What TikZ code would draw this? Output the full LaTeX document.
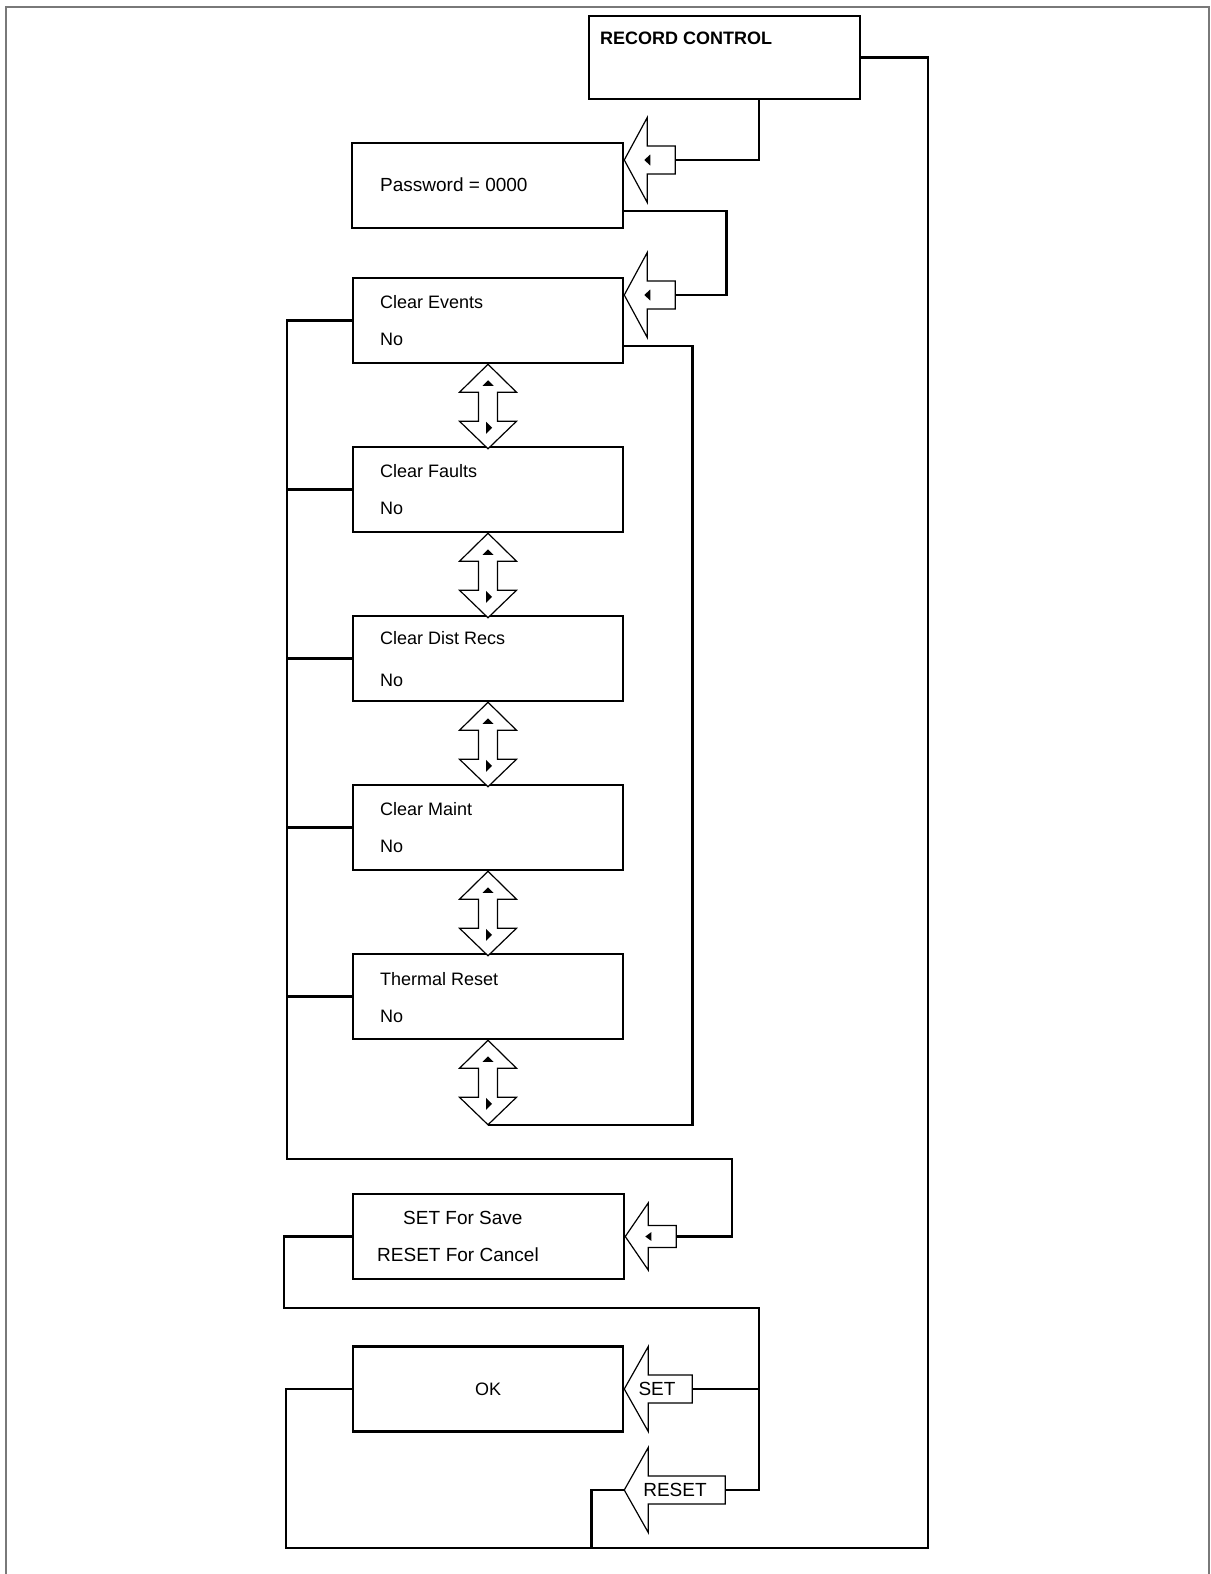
\documentclass[tikz,border=0pt]{standalone}
\usepackage{fontspec}
\setmainfont{Liberation Sans}

\tikzset{
  menubox/.style={draw, line width=2.5pt, minimum width=270pt, minimum height=85pt, inner sep=0pt, font=\fontsize{18}{21}\selectfont},
  menutext/.style={font=\fontsize{18}{21}\selectfont, anchor=west, inner sep=0pt},
  bigtext/.style={font=\fontsize{19}{22}\selectfont, inner sep=0pt},
  link/.style={line width=2.5pt},
  blockarrow/.style={draw, line width=1.2pt, fill=white},
  pics/larrow/.style={code={
    \draw[blockarrow] (0,0) -- (24,-42.5) -- (24,-14) -- (#1,-14) -- (#1,14) -- (24,14) -- (24,42.5) -- cycle;
  }},
  pics/larrowtick/.style={code={
    \draw[blockarrow] (0,0) -- (23,-42.5) -- (23,-14) -- (#1,-14) -- (#1,14) -- (23,14) -- (23,42.5) -- cycle;
    \fill (20,0) -- (26,-5.5) -- (26,5.5) -- cycle;
  }},
  pics/udarrow/.style={code={
    \draw[blockarrow] (0,0) -- (28.5,28) -- (9.5,28) -- (9.5,57) -- (28.5,57) -- (0,84.5)
      -- (-28.5,57) -- (-9.5,57) -- (-9.5,28) -- (-28.5,28) -- cycle;
    \fill (0,16) -- (5.5,21.5) -- (-5.5,21.5) -- cycle;
    \fill (-2,57.5) -- (4,63.5) -- (-2,69.5) -- cycle;
  }}
}

\begin{document}
\begin{tikzpicture}[x=1pt, y=-1pt]
  \useasboundingbox (0,0) rectangle (1210,1574);
  % cornice
  \draw[gray!95!black, line width=2pt] (6,1580) -- (6,7) -- (1209,7) -- (1209,1580);

  % riquadri del menu
  \node[menubox, minimum width=271pt, minimum height=83pt] (rc) at (724.5,57.5) {};
  \node[menubox, minimum width=271pt] (pw) at (487.5,185.5) {};
  \node[menubox] (ce) at (488,320.5) {};
  \node[menubox] (cf) at (488,489.5) {};
  \node[menubox] (cd) at (488,658.5) {};
  \node[menubox] (cm) at (488,827.5) {};
  \node[menubox] (tr) at (488,996.5) {};
  \node[menubox, minimum width=271pt] (ss) at (488.5,1236.5) {};
  \node[menubox] (ok) at (488,1389) {OK};

  % testi dei riquadri
  \node[menutext, font=\fontsize{18}{21}\selectfont\bfseries] (rct) at (600,38.5) {RECORD CONTROL};
  \node[menutext, bigtext] (pwt) at (380,185) {Password = 0000};
  \node[menutext] (cet) at (380,302) {Clear Events};
  \node[menutext] (cen) at (380,339) {No};
  \node[menutext] (cft) at (380,471) {Clear Faults};
  \node[menutext] (cfn) at (380,508) {No};
  \node[menutext] (cdt) at (380,638) {Clear Dist Recs};
  \node[menutext] (cdn) at (380,680) {No};
  \node[menutext] (cmt) at (380,809) {Clear Maint};
  \node[menutext] (cmn) at (380,846) {No};
  \node[menutext] (trt) at (380,979) {Thermal Reset};
  \node[menutext] (trn) at (380,1016) {No};
  \node[menutext, bigtext] (sst) at (403,1218) {SET For Save};
  \node[menutext, bigtext] (ssn) at (377,1255) {RESET For Cancel};

  % punte e code delle frecce
  \coordinate (pwtip) at ([yshift=25.5pt]pw.east);
  \coordinate (pwtail) at ([xshift=51pt]pwtip);
  \coordinate (cetip) at ([yshift=25.5pt]ce.east);
  \coordinate (cetail) at ([xshift=51pt]cetip);
  \coordinate (sstip) at (ss.east);
  \coordinate (sstail) at ([xshift=51pt]sstip);
  \coordinate (settip) at (ok.east);
  \coordinate (settail) at ([xshift=68pt]settip);
  \coordinate (resettip) at ([yshift=-101pt]ok.east);
  \coordinate (resettail) at ([xshift=101pt]resettip);
  \coordinate (endtip) at ([yshift=-84.5pt]tr.south);
  \coordinate (bus) at (287,1159);
  \coordinate (rjoin) at (759,1308);
  \coordinate (bl) at (286,1548);
  \coordinate (br) at (928,1548);

  % collegamenti
  \draw[link] ([xshift=34.5pt]rc.south) |- (pwtail);
  \draw[link] ([yshift=-25.5pt]pw.east) -- ++(102,0) |- (cetail);
  \draw[link] ([yshift=-25.5pt]ce.east) -- ++(68,0) |- (endtip);
  \draw[link] (ce.west) -| (bus) -- ++(445,0) |- (sstail);
  \foreach \b in {cf,cd,cm,tr}
    \draw[link] (\b.west) -- (\b.west -| bus);
  \draw[link] (ss.west) -- ++(-68,0) |- (rjoin) |- (resettail);
  \draw[link] (settail) -- (settail -| rjoin);
  \draw[link] (ok.west) -| (bl) -- (br) |- (rc.east);
  \draw[link] (resettip) -- ++(-33,0) -- ++(0,58);

  % frecce di ingresso
  \pic at (pwtip) {larrowtick=51};
  \pic at (cetip) {larrowtick=51};
  \pic[yscale=0.79] at (sstip) {larrowtick=51};
  \pic at (settip) {larrow=68};
  \pic at (resettip) {larrow=101};
  \node[bigtext] (setl) at (657,1389) {SET};
  \node[bigtext] (resetl) at (675,1490) {RESET};

  % frecce su/giu tra le voci
  \foreach \b in {ce,cf,cd,cm,tr}
    \pic at (\b.south) {udarrow};
\end{tikzpicture}
\end{document}
